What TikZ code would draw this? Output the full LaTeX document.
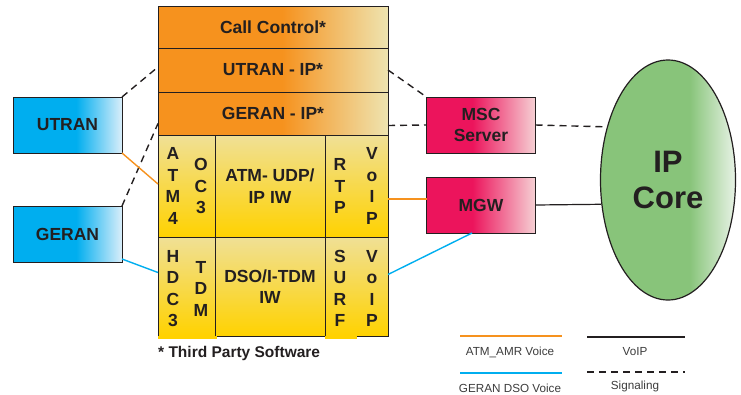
\documentclass[tikz,border=0pt]{standalone}
\usepackage{fontspec}
\setmainfont{Liberation Sans}
\usetikzlibrary{shapes.geometric}

\definecolor{txt}{RGB}{35,31,32}
\definecolor{orangeA}{RGB}{246,146,30}
\definecolor{orangeB}{RGB}{238,228,176}
\definecolor{goldA}{RGB}{255,210,0}
\definecolor{goldB}{RGB}{240,224,150}
\definecolor{cyanA}{RGB}{0,174,239}
\definecolor{cyanB}{RGB}{218,238,250}
\definecolor{pinkA}{RGB}{236,20,92}
\definecolor{pinkB}{RGB}{246,208,212}
\definecolor{greenA}{RGB}{136,196,122}
\definecolor{greenB}{RGB}{232,243,230}
\definecolor{legtxt}{RGB}{60,60,60}

% fades: solid on the left, pale on the right
\pgfdeclarehorizontalshading{orangefade}{100bp}{color(0bp)=(orangeA); color(52bp)=(orangeA); color(75bp)=(orangeB); color(100bp)=(orangeB)}
\pgfdeclarehorizontalshading{cyanfade}{100bp}{color(0bp)=(cyanA); color(54bp)=(cyanA); color(75bp)=(cyanB); color(100bp)=(cyanB)}
\pgfdeclarehorizontalshading{pinkfade}{100bp}{color(0bp)=(pinkA); color(46bp)=(pinkA); color(75bp)=(pinkB); color(100bp)=(pinkB)}
\pgfdeclarehorizontalshading{greenfade}{100bp}{color(0bp)=(greenA); color(58bp)=(greenA); color(75bp)=(greenB); color(100bp)=(greenB)}

\tikzset{
  bigfont/.style={font=\bfseries\fontsize{17.5}{21.5}\selectfont, text=txt},
  cell/.style={draw=txt, line width=1pt, inner sep=0pt, outer sep=0pt, bigfont, align=center},
  layer/.style={cell, shading=orangefade, minimum width=230pt},
  ycell/.style={cell, top color=goldB, bottom color=goldA},
  vtext/.style={bigfont, align=center, inner sep=0pt},
  sidebox/.style={cell, minimum width=109pt, minimum height=56pt},
  sigline/.style={txt, line width=1.4pt, dash pattern=on 7pt off 5pt},
  voipline/.style={txt, line width=1.2pt},
  amrline/.style={orangeA, line width=1.4pt},
  dsoline/.style={cyanA, line width=1.4pt},
  legtext/.style={font=\fontsize{11.7}{13}\selectfont, text=legtxt}
}

\begin{document}
\begin{tikzpicture}[x=1pt,y=-1pt]
\useasboundingbox (0,0) rectangle (741,394);

% Protocol stack
  \node[layer, minimum height=42pt] (callctl) at (273,27) {Call Control*};
  \node[layer, minimum height=44pt] (utranip) at (273,70) {UTRAN - IP*};
  \node[layer, minimum height=43pt] (geranip) at (273,113.5) {GERAN - IP*};

  \node[ycell, minimum width=57pt, minimum height=102pt] (atm) at (186.5,186) {};
  \node[ycell, minimum width=110pt, minimum height=102pt] (atmiw) at (270,186) {ATM- UDP/\\IP IW};
  \node[ycell, minimum width=63pt, minimum height=102pt] (rtp) at (356.5,186) {};
  \node[ycell, minimum width=57pt, minimum height=99pt] (hdc) at (186.5,286.5) {};
  \node[ycell, minimum width=110pt, minimum height=99pt] (tdmiw) at (270,286.5) {DSO/I-TDM\\IW};
  \node[ycell, minimum width=63pt, minimum height=99pt] (surf) at (356.5,286.5) {};

  \node[vtext] (atmtxt) at ([xshift=-13.5pt]atm.center) {A\\T\\M\\4};
  \node[vtext] (octxt) at ([xshift=14.5pt]atm.center) {O\\C\\3};
  \node[vtext] (rtptxt) at ([xshift=-16.5pt]rtp.center) {R\\T\\P};
  \node[vtext] (voipa) at ([xshift=15.5pt]rtp.center) {V\\o\\I\\P};
  \node[vtext] (hdctxt) at ([xshift=-13.5pt,yshift=-2pt]hdc.center) {H\\D\\C\\3};
  \node[vtext] (tdmtxt) at ([xshift=14.5pt,yshift=-2pt]hdc.center) {T\\D\\M};
  \node[vtext] (surftxt) at ([xshift=-16.5pt,yshift=-2pt]surf.center) {S\\U\\R\\F};
  \node[vtext] (voipb) at ([xshift=15.5pt,yshift=-2pt]surf.center) {V\\o\\I\\P};

  \fill[goldA] (hdc.south west) rectangle ++(59,3);
  \fill[goldA] (surf.south west) rectangle ++(32,3);

  \node[anchor=base west, inner sep=0pt, font=\bfseries\fontsize{15.5}{17}\selectfont, text=txt] (note) at (158,357) {* Third Party Software};

% Access and core boxes
  \node[sidebox, shading=cyanfade] (utran) at (67.5,125) {UTRAN};
  \node[sidebox, shading=cyanfade] (geran) at (67.5,234) {GERAN};
  \node[sidebox, shading=pinkfade, font=\bfseries\fontsize{17.5}{21}\selectfont] (msc) at (481,125) {MSC\\Server};
  \node[sidebox, shading=pinkfade] (mgw) at (481,205) {MGW};
  \node[ellipse, draw=txt, line width=1.2pt, shading=greenfade, minimum width=135pt, minimum height=240pt,
        inner sep=0pt, align=center, font=\bfseries\fontsize{31}{36}\selectfont, text=txt] (ipcore) at (668,180) {IP\\Core};

% Connectors
  \draw[sigline] (utran.north east) -- ([yshift=3pt]utranip.west);
  \draw[sigline] (geran.north east) -- ([yshift=-10pt]geranip.west);
  \draw[amrline] (utran.south east) -- ([yshift=2pt]atm.west);
  \draw[dsoline] ([yshift=3pt]geran.south east) -- ([yshift=14pt]hdc.west);

  \draw[sigline] (utranip.east) -- (msc.north west);
  \draw[sigline] ([yshift=-12pt]geranip.east) -- (msc.west);
  \draw[sigline] (msc.east) -- (ipcore.139);
  \draw[amrline] ([yshift=6pt]mgw.west) -- ([yshift=6pt]mgw.west -| rtp.east);
  \draw[dsoline] ([yshift=12pt]surf.east) -- ([xshift=-9pt]mgw.south);
  \draw[voipline] (mgw.east) -- (ipcore.200);

% Legend
  \coordinate (amrA) at (460,336);  \coordinate (amrB) at (562,336);
  \coordinate (dsoA) at (460,373);  \coordinate (dsoB) at (562,373);
  \coordinate (voipA) at (587,337); \coordinate (voipB) at (685,337);
  \coordinate (sigA) at (587,372);  \coordinate (sigB) at (685,372);
  \draw[amrline] (amrA) -- (amrB);
  \draw[dsoline] (dsoA) -- (dsoB);
  \draw[voipline] (voipA) -- (voipB);
  \draw[sigline] (sigA) -- (sigB);
  \node[legtext] (amrlbl) at (510,352) {ATM\_AMR Voice};
  \node[legtext] (dsolbl) at (510,388) {GERAN DSO Voice};
  \node[legtext] (voiplbl) at (635,352) {VoIP};
  \node[legtext] (siglbl) at (635,386) {Signaling};
\end{tikzpicture}
\end{document}
